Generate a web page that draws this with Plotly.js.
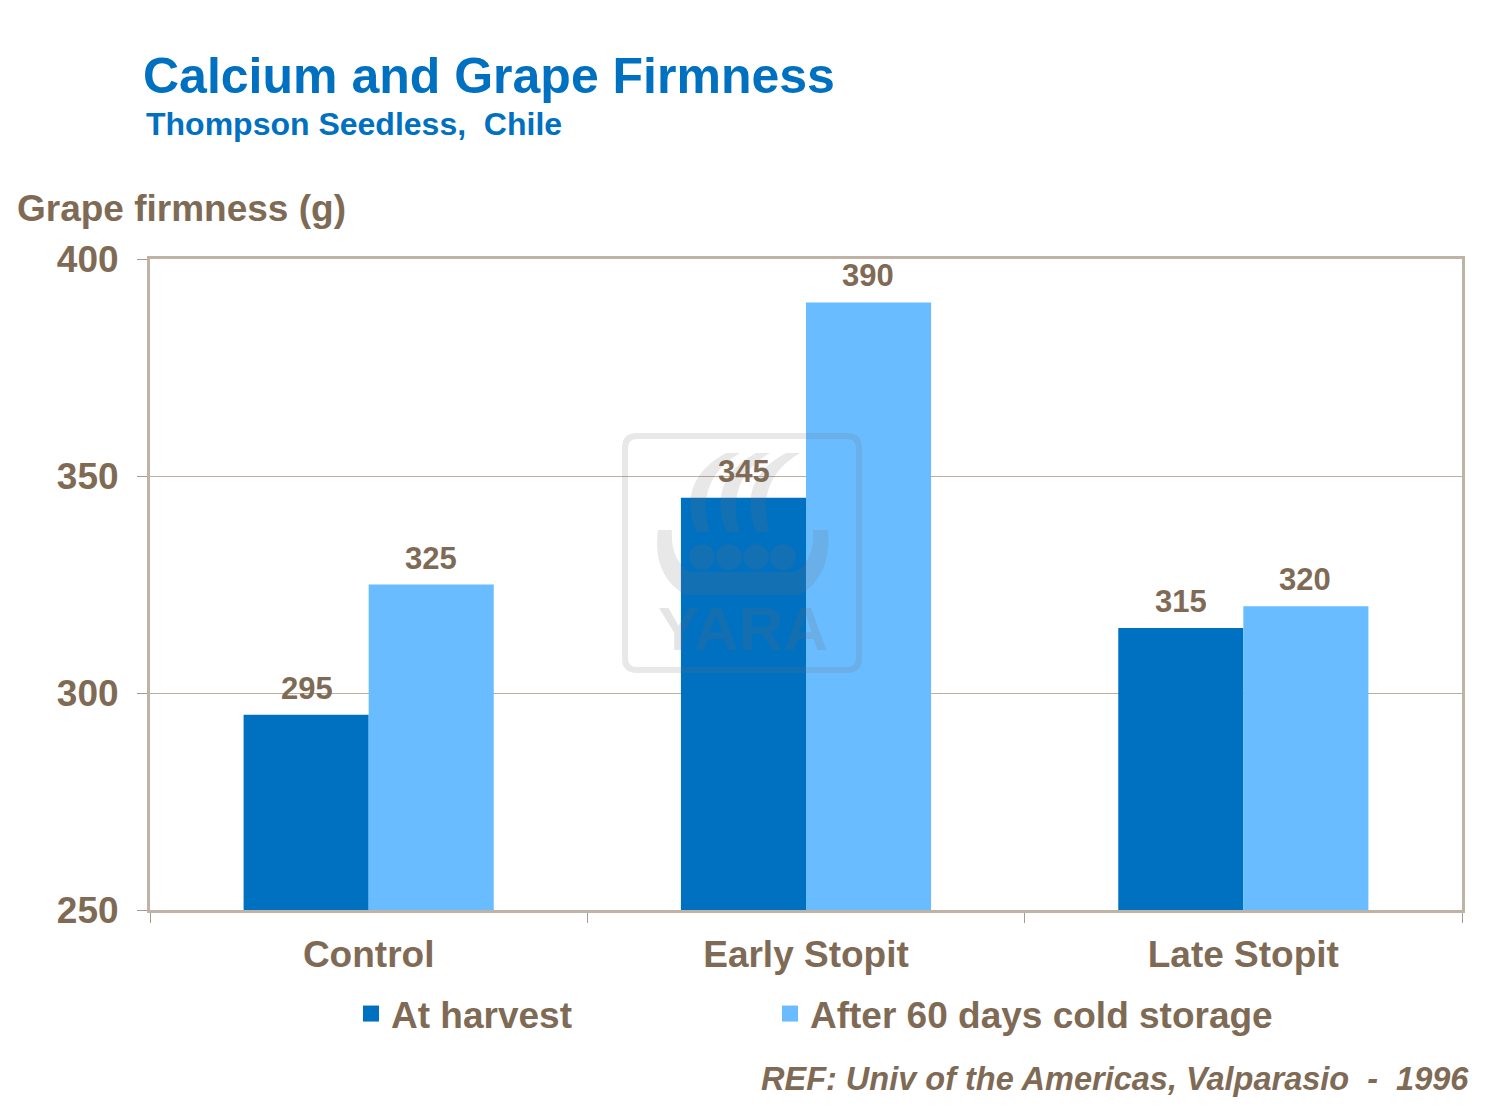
<!DOCTYPE html>
<html>
<head>
<meta charset="utf-8">
<script src="https://cdn.plot.ly/plotly-3.0.1.min.js"></script>
<style>html,body{margin:0;padding:0;background:#fff;}#chart{width:1485px;height:1109px;}</style>
</head>
<body>
<div id="chart"></div>
<script>
const categories = ["Control", "Early Stopit", "Late Stopit"];
const seriesNames = ["At harvest", "After 60 days cold storage"];
const seriesColors = ["#0070C0", "#69BCFF"];
const atHarvest = [295, 345, 315];
const afterStorage = [325, 390, 320];
const yTicks = [250, 300, 350, 400];

const BROWN = "#7F6B55";
const FONT = "Liberation Sans, Arial, sans-serif";
const W = 1485, H = 1109;
const L = 150, R = 23, T = 259, B = 199;
const PW = W - L - R, PH = H - T - B;
const px = x => (x - L) / PW;
const py = y => (H - B - y) / PH;

const traces = [
  {type: "bar", name: seriesNames[0], x: categories, y: atHarvest,
   marker: {color: seriesColors[0]}, hoverinfo: "skip", showlegend: false},
  {type: "bar", name: seriesNames[1], x: categories, y: afterStorage,
   marker: {color: seriesColors[1]}, hoverinfo: "skip", showlegend: false},
  // legend entries (square markers)
  {type: "scatter", mode: "markers", name: seriesNames[0], x: [categories[0]], y: [null],
   marker: {symbol: "square", size: 18, color: seriesColors[0]}, legend: "legend", showlegend: true},
  {type: "scatter", mode: "markers", name: seriesNames[1], x: [categories[0]], y: [null],
   marker: {symbol: "square", size: 18, color: seriesColors[1]}, legend: "legend2", showlegend: true}
];

const annotations = [];
[atHarvest, afterStorage].forEach((vals, s) => {
  vals.forEach((v, i) => {
    annotations.push({x: categories[i], y: v, xref: "x", yref: "y",
      text: String(v), showarrow: false, yanchor: "bottom",
      xshift: s === 0 ? -62 : 62, yshift: 7,
      font: {family: FONT, size: 31, color: BROWN, weight: 700}});
  });
});
annotations.push({xref: "paper", yref: "paper", x: px(144), y: py(124), xanchor: "left", yanchor: "middle",
  text: "Thompson Seedless,  Chile", showarrow: false,
  font: {family: FONT, size: 32, color: "#0070C0", weight: 700}});
annotations.push({xref: "paper", yref: "paper", x: px(15), y: py(208), xanchor: "left", yanchor: "middle",
  text: "Grape firmness (g)", showarrow: false,
  font: {family: FONT, size: 37, color: BROWN, weight: 700}});
annotations.push({xref: "paper", yref: "paper", x: px(1471), y: py(1079), xanchor: "right", yanchor: "middle",
  text: "<i>REF: Univ of the Americas, Valparasio  -  1996</i>", showarrow: false,
  font: {family: FONT, size: 32.5, color: BROWN, weight: 700}});
// watermark text
annotations.push({xref: "paper", yref: "paper", x: px(743), y: py(628), xanchor: "center", yanchor: "middle",
  text: "YARA", showarrow: false,
  font: {family: FONT, size: 62, color: "rgba(110,110,110,0.18)", weight: 700}});

const WM = "rgba(110,110,110,0.16)";
function rr(x0, y0, x1, y1, r) {
  const P = (x, y) => `${px(x)},${py(y)}`;
  return `M ${P(x0 + r, y0)} L ${P(x1 - r, y0)} Q ${P(x1, y0)} ${P(x1, y0 + r)} L ${P(x1, y1 - r)} Q ${P(x1, y1)} ${P(x1 - r, y1)} L ${P(x0 + r, y1)} Q ${P(x0, y1)} ${P(x0, y1 - r)} L ${P(x0, y0 + r)} Q ${P(x0, y0)} ${P(x0 + r, y0)} Z`;
}
const shapes = [
  {type: "path", xref: "paper", yref: "paper", path: rr(625, 436, 859, 670, 12),
   line: {color: WM, width: 6}, fillcolor: "rgba(0,0,0,0)", layer: "above"}
];
(function(){
  const P = (x, y) => `${px(x)},${py(y)}`;
  shapes.push({type: "path", xref: "paper", yref: "paper", layer: "above",
    path: `M ${P(658,530)} L ${P(672,530)} Q ${P(670,560)} ${P(690,572)} L ${P(795,572)} Q ${P(815,560)} ${P(813,530)} L ${P(828,530)} Q ${P(832,575)} ${P(800,595)} L ${P(685,595)} Q ${P(652,575)} ${P(658,530)} Z`,
    fillcolor: WM, line: {width: 0}});
  [702, 729, 756, 783].forEach(cx => {
    shapes.push({type: "circle", xref: "paper", yref: "paper", layer: "above",
      x0: px(cx - 13), x1: px(cx + 13), y0: py(570), y1: py(544),
      fillcolor: WM, line: {width: 0}});
  });
  [[690, 718], [720, 748], [750, 778]].forEach(([a, b]) => {
    shapes.push({type: "path", xref: "paper", yref: "paper", layer: "above",
      path: `M ${P(b + 22, 453)} L ${P(b + 8, 453)} Q ${P(a - 14, 480)} ${P(a + 6, 532)} L ${P(a + 20, 532)} Q ${P(a + 4, 480)} ${P(b + 22, 453)} Z`,
      fillcolor: WM, line: {width: 0}});
  });
})();

const legendFont = {family: FONT, size: 37, color: BROWN, weight: 700};
const layout = {
  width: W, height: H,
  margin: {l: L, r: R, t: T, b: B},
  paper_bgcolor: "#fff", plot_bgcolor: "#fff",
  barmode: "group", bargap: 0.428, bargroupgap: 0,
  font: {family: FONT, color: BROWN},
  title: {text: "Calcium and Grape Firmness", x: 143 / W, xanchor: "left", xref: "container",
    y: 1 - 75 / H, yanchor: "middle", yref: "container",
    font: {family: FONT, size: 50, color: "#0070C0", weight: 700}},
  xaxis: {type: "category", tickson: "boundaries", ticks: "outside", ticklen: 10,
    tickcolor: "#A89C90", tickwidth: 1,
    showline: true, linecolor: "#BFB3A6", linewidth: 3, mirror: true,
    showgrid: false, ticklabelstandoff: 10,
    tickfont: {family: FONT, size: 37, color: BROWN, weight: 700}},
  yaxis: {range: [250, 400], tickvals: yTicks, ticktext: yTicks.map(String),
    ticks: "outside", ticklen: 10, tickcolor: "#A89C90", tickwidth: 1,
    showline: true, linecolor: "#BFB3A6", linewidth: 3, mirror: true,
    showgrid: true, gridcolor: "#BDAE9E", gridwidth: 1, zeroline: false,
    ticklabelstandoff: 11,
    tickfont: {family: FONT, size: 37, color: BROWN, weight: 700}},
  showlegend: true,
  legend: {orientation: "h", x: px(351), xanchor: "left", y: py(1014), yanchor: "middle",
    itemsizing: "trace", font: legendFont, bgcolor: "rgba(0,0,0,0)"},
  legend2: {orientation: "h", x: px(770), xanchor: "left", y: py(1014), yanchor: "middle",
    itemsizing: "trace", font: legendFont, bgcolor: "rgba(0,0,0,0)"},
  annotations: annotations,
  shapes: shapes
};

Plotly.newPlot("chart", traces, layout, {displayModeBar: false, staticPlot: true});
</script>
</body>
</html>
